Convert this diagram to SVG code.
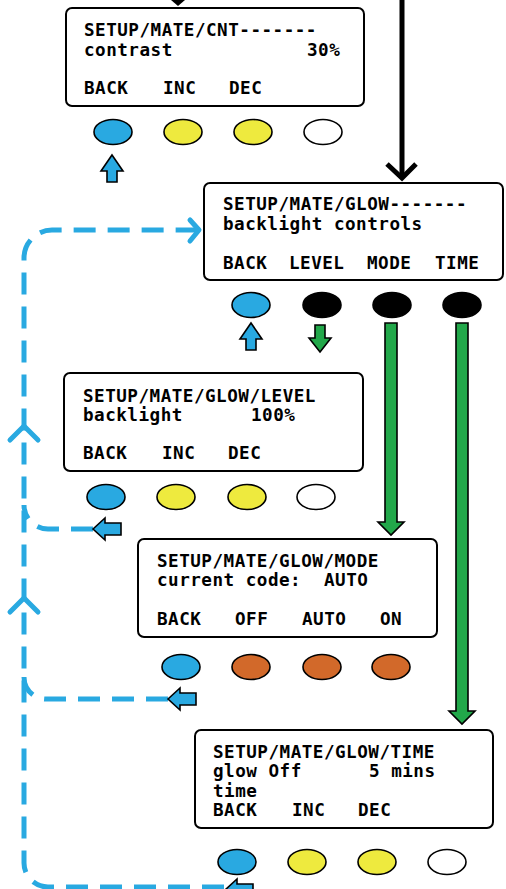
<svg xmlns="http://www.w3.org/2000/svg" width="506" height="889" viewBox="0 0 506 889">
<style>
.box{fill:#fff;stroke:#000;stroke-width:2}
.t{font-family:"DejaVu Sans Mono","Liberation Mono",monospace;font-weight:bold;font-size:17.6px;letter-spacing:0.5px;fill:#000}
.b{fill:#29a9e1;stroke:#000;stroke-width:1.6}
.y{fill:#eeea3e;stroke:#000;stroke-width:1.6}
.w{fill:#fff;stroke:#000;stroke-width:1.6}
.k{fill:#000;stroke:#000;stroke-width:1.6}
.o{fill:#d2692a;stroke:#000;stroke-width:1.6}
.dash{fill:none;stroke:#29a9e1;stroke-width:5;stroke-dasharray:22 12}
.chev{fill:none;stroke:#29a9e1;stroke-width:5;stroke-linecap:round;stroke-linejoin:round}
.ba{fill:#29a9e1;stroke:#000;stroke-width:1.6;stroke-linejoin:miter}
.ga{fill:#22a84a;stroke:#000;stroke-width:1.6}
</style>
<defs>
<path id="up" d="M0 0 L11 16 L5 16 L5 27 L-5 27 L-5 16 L-11 16 Z"/>
<path id="down" d="M0 0 L11 -14 L5 -14 L5 -27 L-5 -27 L-5 -14 L-11 -14 Z"/>
<path id="left" d="M0 0 L12 -11 L12 -6 L28 -6 L28 6 L12 6 L12 11 Z"/>
</defs>

<g id="connectors">
<line x1="402" y1="0" x2="402" y2="177" stroke="#000" stroke-width="5"/>
<polyline points="387,164 402,178 416,164" fill="none" stroke="#000" stroke-width="5"/>
<polygon points="171,0 185,0 178,6" fill="#000"/>
<path class="dash" d="M224 887 H48 A24 24 0 0 1 24 863 V258 A28 28 0 0 1 52 230 H196"/>
<polyline class="chev" points="190,220 199,230 190,241"/>
<polyline class="chev" points="10,440 24,426 38,440"/>
<polyline class="chev" points="10,612 24,598 38,612"/>
<path class="dash" d="M93 529 H48 A24 24 0 0 1 24 505"/>
<path class="dash" d="M168 699 H48 A22 22 0 0 1 24 677"/>
<use href="#up" class="ba" x="112" y="155"/>
<use href="#up" class="ba" x="251" y="323"/>
<use href="#down" class="ga" x="320" y="352"/>
<use href="#left" class="ba" x="93" y="529"/>
<use href="#left" class="ba" x="168" y="699"/>
<use href="#left" class="ba" x="225" y="890"/>
<polygon class="ga" points="385,323 397,323 397,522 404,522 391,535 378,522 385,522"/>
<polygon class="ga" points="456,323 468,323 468,711 475,711 462,724 449,711 456,711"/>
</g>

<g id="cnt">
<rect class="box" x="66" y="8" width="298" height="98" rx="6"/>
<text class="t" x="84" y="36">SETUP/MATE/CNT-------</text>
<text class="t" x="84" y="55.5">contrast</text>
<text class="t" x="307" y="55.5">30%</text>
<text class="t" x="84" y="94">BACK</text>
<text class="t" x="163" y="94">INC</text>
<text class="t" x="229" y="94">DEC</text>
<ellipse class="b" cx="113" cy="132" rx="19" ry="12.5"/>
<ellipse class="y" cx="183" cy="132" rx="19" ry="12.5"/>
<ellipse class="y" cx="253" cy="132" rx="19" ry="12.5"/>
<ellipse class="w" cx="323" cy="132" rx="19" ry="12.5"/>
</g>

<g id="glow">
<rect class="box" x="204" y="183" width="299" height="97" rx="6"/>
<text class="t" x="223" y="210">SETUP/MATE/GLOW-------</text>
<text class="t" x="223" y="230">backlight controls</text>
<text class="t" x="223" y="269">BACK</text>
<text class="t" x="289" y="269">LEVEL</text>
<text class="t" x="367" y="269">MODE</text>
<text class="t" x="435" y="269">TIME</text>
<ellipse class="b" cx="251" cy="305" rx="19" ry="12.5"/>
<ellipse class="k" cx="322" cy="305" rx="19" ry="12.5"/>
<ellipse class="k" cx="392" cy="305" rx="19" ry="12.5"/>
<ellipse class="k" cx="462" cy="305" rx="19" ry="12.5"/>
</g>

<g id="level">
<rect class="box" x="64" y="373" width="299" height="98" rx="6"/>
<text class="t" x="83" y="401.5">SETUP/MATE/GLOW/LEVEL</text>
<text class="t" x="83" y="420.5">backlight</text>
<text class="t" x="251" y="420.5">100%</text>
<text class="t" x="83" y="459">BACK</text>
<text class="t" x="162" y="459">INC</text>
<text class="t" x="228" y="459">DEC</text>
<ellipse class="b" cx="106" cy="497" rx="19" ry="12.5"/>
<ellipse class="y" cx="176" cy="497" rx="19" ry="12.5"/>
<ellipse class="y" cx="247" cy="497" rx="19" ry="12.5"/>
<ellipse class="w" cx="316" cy="497" rx="19" ry="12.5"/>
</g>

<g id="mode">
<rect class="box" x="138" y="539" width="299" height="98" rx="6"/>
<text class="t" x="157" y="566.5">SETUP/MATE/GLOW/MODE</text>
<text class="t" x="157" y="585.5">current code:</text>
<text class="t" x="324" y="585.5">AUTO</text>
<text class="t" x="157" y="625">BACK</text>
<text class="t" x="235" y="625">OFF</text>
<text class="t" x="302" y="625">AUTO</text>
<text class="t" x="380" y="625">ON</text>
<ellipse class="b" cx="181" cy="667" rx="19" ry="12.5"/>
<ellipse class="o" cx="251" cy="667" rx="19" ry="12.5"/>
<ellipse class="o" cx="322" cy="667" rx="19" ry="12.5"/>
<ellipse class="o" cx="391" cy="667" rx="19" ry="12.5"/>
</g>

<g id="time">
<rect class="box" x="195" y="730" width="298" height="98" rx="6"/>
<text class="t" x="213" y="758">SETUP/MATE/GLOW/TIME</text>
<text class="t" x="213" y="777">glow Off</text>
<text class="t" x="369" y="777">5 mins</text>
<text class="t" x="213" y="796.5">time</text>
<text class="t" x="213" y="815.5">BACK</text>
<text class="t" x="292" y="815.5">INC</text>
<text class="t" x="358" y="815.5">DEC</text>
<ellipse class="b" cx="237" cy="862" rx="19" ry="12.5"/>
<ellipse class="y" cx="307" cy="862" rx="19" ry="12.5"/>
<ellipse class="y" cx="377" cy="862" rx="19" ry="12.5"/>
<ellipse class="w" cx="447" cy="862" rx="19" ry="12.5"/>
</g>
</svg>
